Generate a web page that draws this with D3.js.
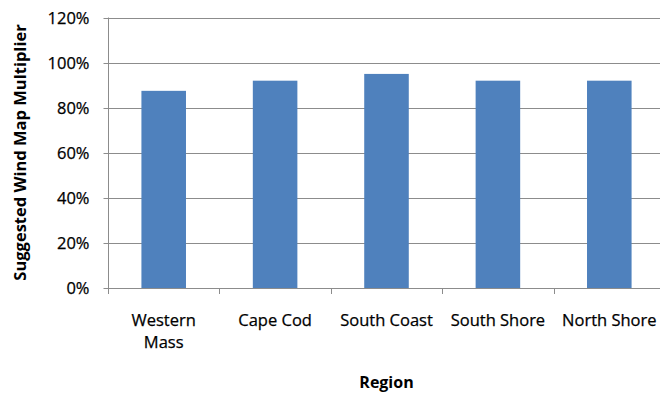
<!DOCTYPE html>
<html>
<head>
<meta charset="utf-8">
<script src="https://cdn.jsdelivr.net/npm/d3@7"></script>
<style>
  html, body { margin: 0; padding: 0; background: #fff; }
  svg { display: block; }
  text { font-family: "Open Sans", "Liberation Sans", sans-serif; fill: #000; }
</style>
</head>
<body>
<svg id="chart" width="660" height="395"></svg>
<script>
// Suggested wind map multiplier by region
const categories = ["Western Mass", "Cape Cod", "South Coast", "South Shore", "North Shore"];
const multipliers = [0.875, 0.92, 0.95, 0.92, 0.92];
const yTicks = [0, 0.2, 0.4, 0.6, 0.8, 1.0, 1.2];
const yTitle = "Suggested Wind Map Multiplier";
const xTitle = "Region";

const W = 660, H = 395;
const plot = { left: 108, right: 665, top: 17.5, bottom: 288.3 };

const svg = d3.select("#chart");

const x = d3.scaleBand()
  .domain(categories)
  .range([plot.left, plot.right])
  .paddingInner(0.6)
  .paddingOuter(0.3);

const y = d3.scaleLinear()
  .domain([0, 1.2])
  .range([plot.bottom, plot.top]);

const gridColor = "#8c8c8c";

// horizontal gridlines
svg.append("g")
  .selectAll("line")
  .data(yTicks.filter(t => t > 0))
  .join("line")
  .attr("x1", plot.left).attr("x2", W)
  .attr("y1", d => Math.round(y(d)) + 0.5)
  .attr("y2", d => Math.round(y(d)) + 0.5)
  .attr("stroke", gridColor).attr("stroke-width", 1);

// bars
svg.append("g")
  .selectAll("rect")
  .data(categories)
  .join("rect")
  .attr("x", d => x(d))
  .attr("width", x.bandwidth())
  .attr("y", (d, i) => y(multipliers[i]))
  .attr("height", (d, i) => y(0) - y(multipliers[i]))
  .attr("fill", "#4f81bd");

// y axis
const yAxis = d3.axisLeft(y)
  .tickValues(yTicks)
  .tickFormat(d3.format(".0%"))
  .tickSize(5)
  .tickPadding(14);

const gy = svg.append("g")
  .attr("transform", `translate(${plot.left + 0.5},0)`)
  .call(yAxis);
gy.select(".domain").attr("stroke", gridColor).attr("d", `M0,${y(1.2)}V${y(0)}`);
gy.selectAll(".tick line").attr("stroke", gridColor);
gy.selectAll(".tick").attr("transform", d => `translate(0,${Math.round(y(d)) + 0.5})`);
gy.selectAll(".tick text")
  .attr("font-size", "16.5px")
  .attr("font-family", "'Open Sans', sans-serif")
  .attr("fill", "#000")
  .attr("stroke", "#000").attr("stroke-width", 0.25)
  .attr("dy", "0.36em");

// x axis baseline
svg.append("line")
  .attr("x1", plot.left).attr("x2", W)
  .attr("y1", Math.round(y(0)) + 0.5).attr("y2", Math.round(y(0)) + 0.5)
  .attr("stroke", gridColor);

// category boundary tick marks
const step = x.step();
const boundaries = categories.map(c => x(c) - step * x.paddingInner() / 2);
boundaries.push(x(categories[categories.length - 1]) + x.bandwidth() + step * x.paddingInner() / 2);
svg.append("g")
  .selectAll("line")
  .data(boundaries)
  .join("line")
  .attr("x1", d => Math.round(d) + 0.5).attr("x2", d => Math.round(d) + 0.5)
  .attr("y1", Math.round(y(0))).attr("y2", Math.round(y(0)) + 6)
  .attr("stroke", gridColor);

// category labels, wrapped when wider than the slot
const labelSize = 16.5;
const lineGap = 21.7;
const labels = svg.append("g");
categories.forEach(c => {
  const cx = x(c) + x.bandwidth() / 2;
  const t = labels.append("text")
    .attr("x", cx)
    .attr("y", y(0) + 38)
    .attr("text-anchor", "middle")
    .attr("font-size", labelSize + "px")
    .attr("stroke", "#000").attr("stroke-width", 0.25)
    .text(c);
  if (t.node().getComputedTextLength() > step * 0.95) {
    const words = c.split(" ");
    t.text(null);
    words.forEach((w, i) => {
      t.append("tspan")
        .attr("x", cx)
        .attr("dy", i === 0 ? 0 : lineGap)
        .text(w);
    });
  }
});

// axis titles
svg.append("text")
  .attr("transform", `translate(26,152.5) rotate(-90)`)
  .attr("text-anchor", "middle")
  .attr("font-size", "16.5px")
  .attr("font-weight", "bold")
  .text(yTitle);

svg.append("text")
  .attr("x", (plot.left + plot.right) / 2)
  .attr("y", 388)
  .attr("text-anchor", "middle")
  .attr("font-size", "16px")
  .attr("font-weight", "bold")
  .text(xTitle);
</script>
</body>
</html>
